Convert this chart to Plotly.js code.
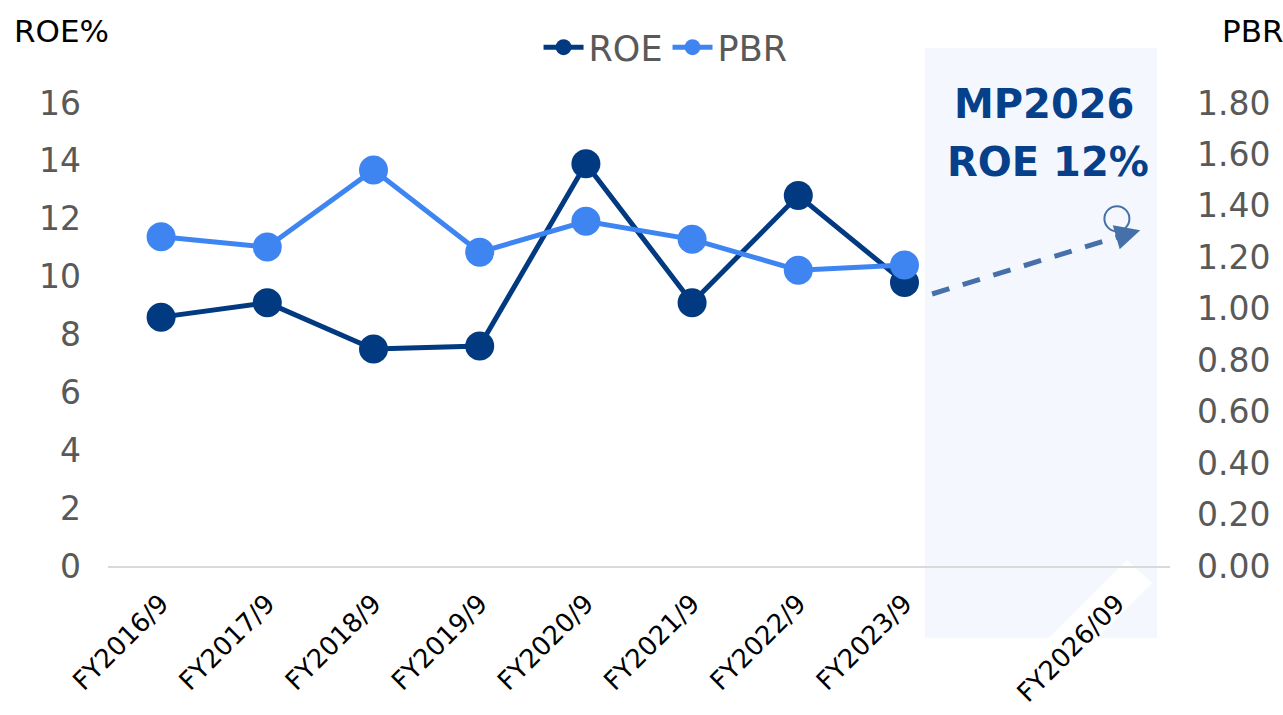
<!DOCTYPE html>
<html><head><meta charset="utf-8">
<script src="https://cdn.plot.ly/plotly-3.0.1.min.js"></script>
<style>html,body{margin:0;padding:0;background:#fff}#chart{width:1283px;height:715px}</style>
</head><body><div id="chart"></div>
<script>
const categories = ['FY2016/9','FY2017/9','FY2018/9','FY2019/9','FY2020/9','FY2021/9','FY2022/9','FY2023/9',' ','FY2026/09'];
const histCats = ['FY2016/9','FY2017/9','FY2018/9','FY2019/9','FY2020/9','FY2021/9','FY2022/9','FY2023/9'];
const roe = [8.6, 9.1, 7.5, 7.6, 13.9, 9.1, 12.8, 9.8];
const pbr = [1.28, 1.24, 1.54, 1.22, 1.34, 1.27, 1.15, 1.17];
const targetCat = ['FY2026/09'];
const targetRoe = [12];
const roeTicks = [0,2,4,6,8,10,12,14,16];
const pbrTicks = [0,0.2,0.4,0.6,0.8,1.0,1.2,1.4,1.6,1.8];

const FONT = 'DejaVu Sans, sans-serif';
const DARK = '#023a82';
const LIGHT = '#3f85f2';
const ARROW = '#4670a9';

// pixel helpers for decorative (non-data) shapes
const PL = 108, PW = 1062, PB = 566, PH = 463;
const px = v => (v - PL) / PW;
const py = v => (PB - v) / PH;
const boxPts = [[1127,560],[1152,583],[1062,673],[1037,650]];
const boxPath = 'M' + boxPts.map(p => px(p[0]) + ',' + py(p[1])).join(' L') + ' Z';

const traces = [
  {x: histCats, y: roe, name: 'ROE', type: 'scatter', mode: 'lines+markers',
   line: {color: DARK, width: 5}, marker: {color: DARK, size: 29}, yaxis: 'y'},
  {x: histCats, y: pbr, name: 'PBR', type: 'scatter', mode: 'lines+markers',
   line: {color: LIGHT, width: 5}, marker: {color: LIGHT, size: 29}, yaxis: 'y2'},
  {x: targetCat, y: targetRoe, name: 'target', type: 'scatter', mode: 'markers', showlegend: false,
   marker: {symbol: 'circle-open', size: 25, color: ARROW, line: {width: 2, color: ARROW}}, yaxis: 'y'}
];

const layout = {
  width: 1283, height: 715,
  margin: {l: 108, r: 113, t: 103, b: 149},
  paper_bgcolor: '#fff', plot_bgcolor: 'rgba(0,0,0,0)',
  font: {family: FONT, color: '#595959'},
  showlegend: true,
  legend: {orientation: 'h', x: 0.525, xanchor: 'center', y: 1.12, yanchor: 'middle',
           font: {size: 35, color: '#595959'}, itemwidth: 40, tracegroupgap: 0, bgcolor: 'rgba(0,0,0,0)'},
  xaxis: {type: 'category', categoryorder: 'array', categoryarray: categories,
          range: [-0.5, 9.5], showgrid: false, zeroline: false, showline: true,
          linecolor: '#d9d9d9', linewidth: 2, ticks: '', tickangle: -45,
          tickfont: {size: 26, color: '#000'}, ticklabelstandoff: 10, fixedrange: true},
  yaxis: {range: [0, 16], tickvals: roeTicks, ticktext: roeTicks.map(String), showgrid: false, zeroline: false,
          showline: false, ticks: '', tickfont: {size: 33, color: '#595959'}, ticklabelstandoff: 26},
  yaxis2: {range: [0, 1.8], overlaying: 'y', side: 'right', tickvals: pbrTicks,
           ticktext: pbrTicks.map(v => v.toFixed(2)), showgrid: false, zeroline: false, showline: false,
           ticks: '', tickfont: {size: 33, color: '#595959'}, ticklabelstandoff: 26},
  shapes: [
    {type: 'rect', layer: 'below', xref: 'paper', yref: 'paper', x0: px(925), x1: px(1157), y0: py(638), y1: py(48),
     fillcolor: '#f4f8fe', line: {width: 0}},
    {type: 'path', layer: 'below', xref: 'paper', yref: 'paper', path: boxPath,
     fillcolor: '#ffffff', line: {width: 0}},
    {type: 'line', xref: 'x', yref: 'y', x0: 7.26, y0: 9.4, x1: 9.12, y1: 11.5,
     line: {color: ARROW, width: 5, dash: '18px,14px'}}
  ],
  annotations: [
    {xref: 'x', yref: 'y', x: 9.22, y: 11.6, ax: 9.05, ay: 11.42, axref: 'x', ayref: 'y',
     text: '', showarrow: true, arrowhead: 2, arrowsize: 1, arrowwidth: 5, arrowcolor: ARROW},
    {xref: 'x', yref: 'paper', x: 8.31, y: py(104), xanchor: 'center', yanchor: 'middle',
     text: '<b>MP2026</b>', showarrow: false, font: {size: 40, color: '#06408a', family: FONT}},
    {xref: 'x', yref: 'paper', x: 8.35, y: py(162), xanchor: 'center', yanchor: 'middle',
     text: '<b>ROE 12%</b>', showarrow: false, font: {size: 40, color: '#06408a', family: FONT}},
    {xref: 'paper', yref: 'paper', x: px(0), xshift: 12, y: py(31), xanchor: 'left', yanchor: 'middle',
     text: 'ROE%', showarrow: false, font: {size: 31, color: '#000', family: FONT}},
    {xref: 'paper', yref: 'paper', x: 1, xshift: 50, y: py(31), xanchor: 'left', yanchor: 'middle',
     text: 'PBR', showarrow: false, font: {size: 31, color: '#000', family: FONT}}
  ]
};

Plotly.newPlot('chart', traces, layout, {displayModeBar: false, staticPlot: true});
</script></body></html>
